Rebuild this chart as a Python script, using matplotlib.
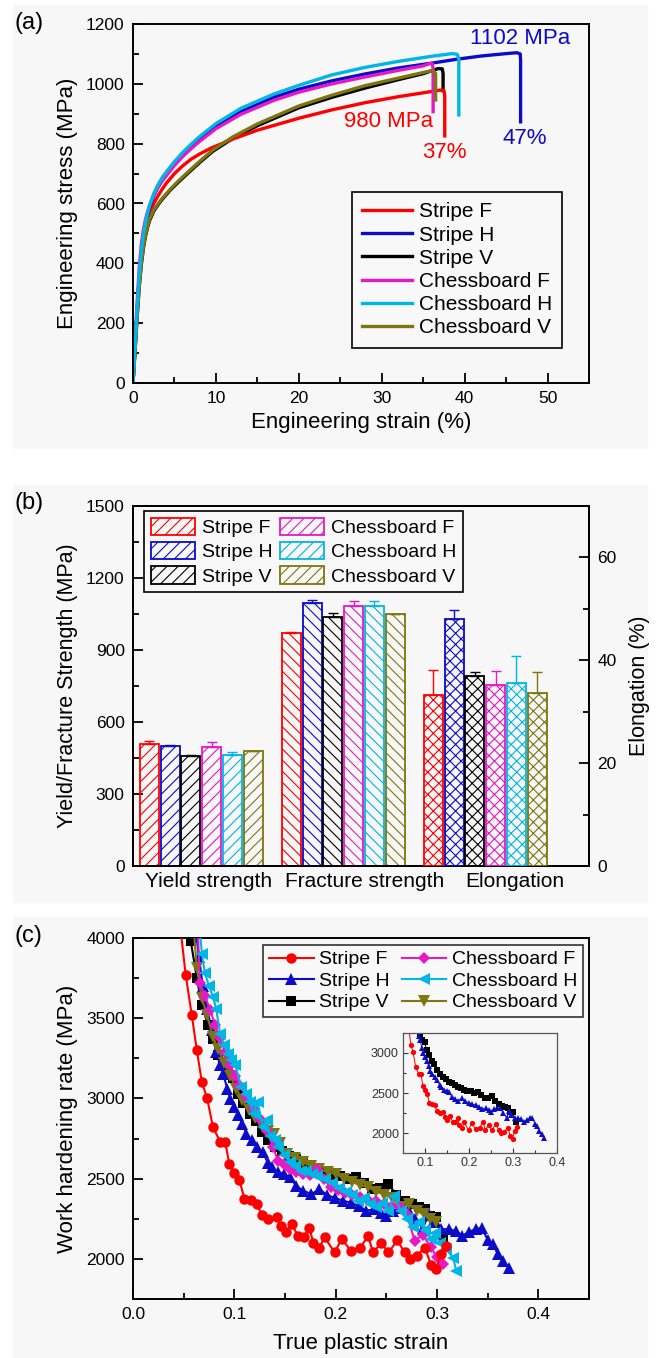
import matplotlib
matplotlib.use('Agg')
import matplotlib.pyplot as plt
import numpy as np
from matplotlib.ticker import MultipleLocator
from matplotlib.patches import Rectangle

plt.rcParams['font.family'] = ['Liberation Sans', 'DejaVu Sans']
plt.rcParams['hatch.linewidth'] = 0.8

W, H = 660, 1358

names = ['Stripe F', 'Stripe H', 'Stripe V', 'Chessboard F', 'Chessboard H', 'Chessboard V']
colors = ['#ff0000', '#0b0bc8', '#000000', '#e619c4', '#00b6e4', '#7d760f']

# ---- (a) engineering stress-strain curves
strain_sf = [0, 0.25, 0.5, 0.75, 1.0, 1.25, 1.5, 1.75, 2.0, 2.5, 3.0, 3.5, 4.0, 5.0, 6.0,
             7.0, 8.0, 9.4, 12, 15, 20, 24, 28, 32, 35, 37.0, 37.5, 37.6, 37.6]
stress_sf = [0, 120, 245, 350, 425, 478, 515, 545, 568, 600, 625, 647, 667, 700, 726,
             748, 765, 785, 815, 845, 885, 913, 937, 957, 970, 979, 978, 960, 826]
strain_sh = [0, 0.25, 0.5, 0.75, 1.0, 1.25, 1.5, 1.75, 2.0, 2.5, 3.0, 3.5, 4.3, 5.0, 6.0,
             7.0, 8.0, 10, 13, 17, 20, 24, 28, 32, 36, 39, 42, 45, 46.3, 46.7, 46.75, 46.75]
stress_sh = [0, 118, 240, 350, 430, 488, 528, 560, 586, 626, 654, 678, 707, 731, 762,
             789, 813, 857, 907, 955, 982, 1010, 1033, 1053, 1069, 1082, 1093, 1101, 1104, 1100, 1080, 873]
strain_sv = [0, 0.25, 0.5, 0.75, 1.0, 1.25, 1.5, 1.75, 2.0, 2.5, 3.0, 3.5, 4.5, 5.5, 6.5,
             8.0, 9.6, 12, 15, 20, 24, 28, 32, 35, 36.8, 37.3, 37.4, 37.4]
stress_sv = [0, 108, 220, 320, 395, 450, 490, 520, 543, 574, 595, 613, 645, 672, 698,
             736, 774, 817, 860, 920, 955, 986, 1014, 1034, 1051, 1050, 1035, 977]
strain_cf = [0, 0.25, 0.5, 0.75, 1.0, 1.25, 1.5, 1.75, 2.0, 2.5, 3.0, 3.5, 4.3, 5.0, 6.0,
             7.0, 8.0, 10, 13, 17, 20, 24, 28, 32, 35, 35.8, 36.1, 36.2, 36.2]
stress_cf = [0, 135, 270, 385, 462, 512, 546, 572, 594, 628, 653, 675, 703, 727, 757,
             783, 807, 850, 898, 945, 972, 1000, 1023, 1045, 1060, 1068, 1067, 1050, 907]
strain_ch = [0, 0.25, 0.5, 0.75, 1.0, 1.25, 1.5, 1.75, 2.0, 2.5, 3.0, 3.5, 4.3, 5.0, 6.0,
             7.0, 8.0, 10, 13, 17, 20, 24, 28, 32, 36, 38.5, 39.1, 39.3, 39.3]
stress_ch = [0, 125, 250, 360, 440, 497, 537, 567, 593, 633, 662, 686, 716, 740, 771,
             798, 823, 867, 918, 966, 995, 1030, 1055, 1075, 1092, 1101, 1099, 1085, 896]
strain_cv = [0, 0.25, 0.5, 0.75, 1.0, 1.25, 1.5, 1.75, 2.0, 2.5, 3.0, 3.5, 4.5, 5.5, 6.5,
             8.0, 9.6, 12, 15, 20, 24, 28, 32, 35.5, 36.2, 36.5, 36.5]
stress_cv = [0, 110, 225, 325, 400, 455, 495, 525, 548, 578, 598, 616, 648, 676, 702,
             740, 778, 822, 866, 926, 962, 994, 1019, 1041, 1044, 1035, 946]

# ---- (b) bar chart values
groups = ['Yield strength', 'Fracture strength', 'Elongation']
yield_mean = [508, 500, 458, 497, 462, 479]
yield_err = [13, 3, 4, 20, 13, 0]
fracture_mean = [972, 1094, 1039, 1083, 1085, 1048]
fracture_err = [3, 14, 15, 21, 19, 2]
elong_mean = [33.3, 48.0, 36.9, 35.1, 35.5, 33.6]
elong_err = [4.9, 1.7, 0.9, 2.8, 5.3, 4.1]

# ---- (c) work hardening rate vs true plastic strain
whr_sf_x = [0.047, 0.052, 0.058, 0.063, 0.068, 0.073, 0.079, 0.086, 0.091, 0.095, 0.100, 0.105, 0.110, 0.116, 0.122,
            0.127, 0.133, 0.142, 0.146, 0.151, 0.157, 0.163, 0.169, 0.174, 0.178, 0.184, 0.189, 0.199, 0.206, 0.215,
            0.224, 0.232, 0.237, 0.245, 0.252, 0.261, 0.268, 0.273, 0.280, 0.288, 0.294, 0.299, 0.304, 0.309]
whr_sf_y = [4050, 3770, 3520, 3300, 3100, 3005, 2820, 2730, 2730, 2590, 2535, 2490, 2375, 2365, 2345,
            2275, 2250, 2260, 2205, 2165, 2215, 2140, 2135, 2195, 2100, 2070, 2135, 2040, 2125, 2050,
            2070, 2140, 2040, 2100, 2040, 2115, 2040, 2000, 2020, 2070, 1965, 1935, 2030, 2080]
whr_sh_x = [0.062, 0.065, 0.069, 0.073, 0.078, 0.082, 0.086, 0.089, 0.093, 0.096, 0.100, 0.104, 0.108, 0.112, 0.117,
            0.122, 0.128, 0.133, 0.137, 0.143, 0.149, 0.155, 0.161, 0.168, 0.176, 0.184, 0.191, 0.199, 0.207, 0.215,
            0.223, 0.230, 0.238, 0.245, 0.250, 0.257, 0.264, 0.271, 0.278, 0.286, 0.292, 0.296, 0.304, 0.312, 0.319,
            0.325, 0.332, 0.338, 0.344, 0.350, 0.355, 0.360, 0.365, 0.371]
whr_sh_y = [4050, 3880, 3700, 3560, 3425, 3290, 3210, 3155, 3060, 2998, 2946, 2894, 2840, 2779, 2740,
            2700, 2665, 2600, 2571, 2540, 2530, 2508, 2456, 2425, 2404, 2435, 2400, 2380, 2363, 2350,
            2330, 2300, 2310, 2285, 2269, 2300, 2316, 2310, 2250, 2193, 2279, 2230, 2185, 2185, 2172,
            2144, 2170, 2185, 2193, 2120, 2092, 2030, 1988, 1946]
whr_sv_x = [0.055, 0.057, 0.063, 0.068, 0.074, 0.079, 0.084, 0.089, 0.094, 0.099, 0.104, 0.109, 0.115, 0.121, 0.127,
            0.133, 0.140, 0.147, 0.154, 0.161, 0.168, 0.175, 0.182, 0.189, 0.196, 0.204, 0.212, 0.220, 0.228, 0.236,
            0.244, 0.252, 0.260, 0.268, 0.275, 0.282, 0.288, 0.293, 0.299, 0.306]
whr_sv_y = [4100, 3980, 3750, 3580, 3460, 3370, 3270, 3210, 3160, 3130, 3030, 2970, 2900, 2860, 2790,
            2740, 2700, 2670, 2640, 2620, 2600, 2575, 2560, 2540, 2520, 2519, 2500, 2508, 2470, 2435,
            2440, 2467, 2400, 2363, 2340, 2321, 2310, 2269, 2258, 2137]
whr_cf_x = [0.064, 0.066, 0.071, 0.076, 0.081, 0.086, 0.091, 0.096, 0.101, 0.105, 0.112, 0.118, 0.125, 0.132, 0.138,
            0.143, 0.149, 0.155, 0.161, 0.168, 0.175, 0.182, 0.188, 0.195, 0.202, 0.209, 0.216, 0.224, 0.232, 0.240,
            0.248, 0.256, 0.263, 0.270, 0.278, 0.286, 0.294, 0.300, 0.306]
whr_cf_y = [4050, 3720, 3640, 3552, 3460, 3375, 3290, 3208, 3140, 3083, 3010, 2938, 2870, 2800, 2700,
            2612, 2590, 2560, 2540, 2530, 2520, 2560, 2500, 2446, 2430, 2410, 2400, 2383, 2370, 2363,
            2340, 2330, 2321, 2280, 2113, 2150, 2071, 2010, 1967]
whr_ch_x = [0.066, 0.068, 0.071, 0.075, 0.079, 0.082, 0.086, 0.090, 0.094, 0.097, 0.101, 0.107, 0.112, 0.115, 0.119,
            0.123, 0.128, 0.132, 0.135, 0.140, 0.143, 0.149, 0.155, 0.160, 0.166, 0.171, 0.177, 0.182, 0.189, 0.196,
            0.203, 0.210, 0.216, 0.222, 0.228, 0.234, 0.240, 0.246, 0.252, 0.258, 0.264, 0.270, 0.276, 0.282, 0.288,
            0.294, 0.298, 0.303, 0.309, 0.316, 0.319]
whr_ch_y = [4050, 3900, 3779, 3700, 3633, 3560, 3404, 3330, 3279, 3240, 3206, 3071, 3029, 2980, 2904,
            2977, 2821, 2863, 2769, 2740, 2696, 2650, 2602, 2580, 2550, 2550, 2530, 2519, 2498, 2470,
            2440, 2420, 2400, 2363, 2380, 2340, 2321, 2350, 2300, 2394, 2300, 2250, 2196, 2230, 2180,
            2123, 2160, 2100, 2060, 2008, 1925]
whr_cv_x = [0.060, 0.063, 0.068, 0.073, 0.079, 0.084, 0.090, 0.096, 0.102, 0.108, 0.114, 0.120, 0.127, 0.133, 0.139,
            0.145, 0.152, 0.160, 0.168, 0.176, 0.184, 0.192, 0.200, 0.208, 0.216, 0.224, 0.232, 0.240, 0.248, 0.256,
            0.264, 0.272, 0.280, 0.287, 0.293, 0.299]
whr_cv_y = [4050, 3810, 3623, 3519, 3383, 3310, 3220, 3140, 3060, 2990, 2930, 2880, 2830, 2800, 2779,
            2720, 2654, 2630, 2602, 2580, 2560, 2540, 2530, 2500, 2480, 2460, 2446, 2420, 2400, 2380,
            2321, 2340, 2300, 2280, 2248, 2230]


def rect(left, top, right, bottom):
    return [left / W, 1 - bottom / H, (right - left) / W, (bottom - top) / H]


def style(ax, size=12.5, major=7, minor=4):
    for s in ax.spines.values():
        s.set_linewidth(1.4)
    ax.tick_params(which='both', direction='in', width=1.3, labelsize=size, pad=6,
                   top=False, right=False)
    ax.tick_params(which='major', length=major)
    ax.tick_params(which='minor', length=minor)
    ax.set_facecolor('none')


fig = plt.figure(figsize=(W / 100, H / 100), dpi=100)
fig.patch.set_facecolor('white')
for (l, t, r, b) in [(13, 5, 647, 448), (13, 485, 647, 902), (13, 917, 647, 1358)]:
    fig.patches.append(Rectangle((l / W, 1 - b / H), (r - l) / W, (b - t) / H,
                                 transform=fig.transFigure, color='#f7f7f7', zorder=-10))

# ================= (a)
axa = fig.add_axes(rect(133, 24, 589, 383))
style(axa)
curves = [(strain_sf, stress_sf), (strain_sh, stress_sh), (strain_sv, stress_sv),
          (strain_cf, stress_cf), (strain_ch, stress_ch), (strain_cv, stress_cv)]
draw_order = [2, 0, 1, 3, 5, 4]
lines_a = {}
for i in draw_order:
    x, y = curves[i]
    lines_a[i], = axa.plot(x, y, color=colors[i], lw=2.4, solid_joinstyle='round', label=names[i])
axa.set_xlim(0, 55)
axa.set_ylim(0, 1200)
axa.xaxis.set_major_locator(MultipleLocator(10))
axa.xaxis.set_minor_locator(MultipleLocator(5))
axa.yaxis.set_major_locator(MultipleLocator(200))
axa.yaxis.set_minor_locator(MultipleLocator(100))
axa.set_xlabel('Engineering strain (%)', fontsize=16, labelpad=4)
axa.set_ylabel('Engineering stress (MPa)', fontsize=16, labelpad=6)
axa.text(40.6, 1153, '1102 MPa', color=colors[1], fontsize=16, va='center', ha='left')
axa.text(25.5, 874, '980 MPa', color=colors[0], fontsize=16, va='center', ha='left')
axa.text(34.9, 770, '37%', color=colors[0], fontsize=16, va='center', ha='left')
axa.text(44.6, 817, '47%', color=colors[1], fontsize=16, va='center', ha='left')
axa.legend([lines_a[i] for i in range(6)], names, loc='upper left',
           bbox_to_anchor=(352 / W, 1 - 192 / H), bbox_transform=fig.transFigure,
           fontsize=15, frameon=True, fancybox=False, edgecolor='black', facecolor='#f8f8f8',
           framealpha=1, borderaxespad=0, handlelength=2.4, labelspacing=0.2,
           handletextpad=0.3, borderpad=0.5)
axa.get_legend().get_frame().set_linewidth(1.2)
fig.text(15 / W, 1 - 23 / H, '(a)', fontsize=17, va='center', ha='left')

# ================= (b)
axb = fig.add_axes(rect(133, 506, 589, 866))
style(axb)
axb2 = axb.twinx()
style(axb2)
axb2.tick_params(which='both', right=True, left=False, labelright=True, labelleft=False)
step = 0.146
bw = 0.134
hatches = ['///', '\\\\\\', 'xxx']
centers = [1, 2, 3]
handles_b = []
for i in range(6):
    off = (i - 2.5) * step
    h = axb.bar(centers[0] + off, yield_mean[i], bw, color='none', edgecolor=colors[i],
                hatch=hatches[0], linewidth=1.3, zorder=3)
    axb.errorbar(centers[0] + off, yield_mean[i], yerr=[[0], [yield_err[i]]], color=colors[i],
                 capsize=3.5, elinewidth=1, capthick=1, fmt='none', zorder=3)
    axb.bar(centers[1] + off, fracture_mean[i], bw, color='none', edgecolor=colors[i],
            hatch=hatches[1], linewidth=1.3, zorder=3)
    axb.errorbar(centers[1] + off, fracture_mean[i], yerr=[[0], [fracture_err[i]]], color=colors[i],
                 capsize=3.5, elinewidth=1, capthick=1, fmt='none', zorder=3)
    axb2.bar(centers[2] + off, elong_mean[i], bw, color='none', edgecolor=colors[i],
             hatch=hatches[2], linewidth=1.3, zorder=3)
    axb2.errorbar(centers[2] + off, elong_mean[i], yerr=[[0], [elong_err[i]]], color=colors[i],
                  capsize=3.5, elinewidth=1, capthick=1, fmt='none', zorder=3)
    handles_b.append(h)
axb.set_xlim(0.52, 3.73)
axb.set_ylim(0, 1500)
axb2.set_ylim(0, 70)
axb.yaxis.set_major_locator(MultipleLocator(300))
axb.yaxis.set_minor_locator(MultipleLocator(150))
axb2.yaxis.set_major_locator(MultipleLocator(20))
axb2.yaxis.set_minor_locator(MultipleLocator(10))
axb.set_xticks([1.05, 2.15, 3.21])
axb.set_xticklabels(groups, fontsize=15)
axb.tick_params(axis='x', which='both', length=0, pad=4)
axb.set_ylabel('Yield/Fracture Strength (MPa)', fontsize=15.5, labelpad=6)
axb2.set_ylabel('Elongation (%)', fontsize=15.5, labelpad=9)
leg = axb.legend(handles_b, names, ncol=2, loc='upper left',
                 bbox_to_anchor=(144 / W, 1 - 511 / H), bbox_transform=fig.transFigure,
                 fontsize=14, frameon=True, fancybox=False, edgecolor='black', facecolor='#f8f8f8',
                 framealpha=1, borderaxespad=0, handlelength=2.25, handleheight=1.0,
                 labelspacing=0.25, handletextpad=0.4, columnspacing=0.35, borderpad=0.35)
leg.get_frame().set_linewidth(1.2)
fig.text(15 / W, 1 - 503 / H, '(b)', fontsize=17, va='center', ha='left')

# ================= (c)
axc = fig.add_axes(rect(133, 938, 589, 1299))
style(axc)
whr = [(whr_sf_x, whr_sf_y), (whr_sh_x, whr_sh_y), (whr_sv_x, whr_sv_y),
       (whr_cf_x, whr_cf_y), (whr_ch_x, whr_ch_y), (whr_cv_x, whr_cv_y)]
markers = ['o', '^', 's', 'D', '<', 'v']
msizes = [7.5, 8, 6.5, 6.5, 8, 8]
zord = [6, 3, 2, 4, 5, 3]
lines_c = []
for i in range(6):
    x, y = whr[i]
    ln, = axc.plot(x, y, color=colors[i], marker=markers[i], ms=msizes[i], lw=1.5,
                   markeredgewidth=0, zorder=zord[i])
    lines_c.append(ln)
axc.set_xlim(0, 0.45)
axc.set_ylim(1750, 4000)
axc.xaxis.set_major_locator(MultipleLocator(0.1))
axc.xaxis.set_minor_locator(MultipleLocator(0.05))
axc.yaxis.set_major_locator(MultipleLocator(500))
axc.yaxis.set_minor_locator(MultipleLocator(250))
axc.set_xlabel('True plastic strain', fontsize=16, labelpad=8)
axc.set_ylabel('Work hardening rate (MPa)', fontsize=16, labelpad=6)
leg = axc.legend(lines_c, names, ncol=2, loc='upper left',
                 bbox_to_anchor=(263 / W, 1 - 945 / H), bbox_transform=fig.transFigure,
                 fontsize=14, frameon=True, fancybox=False, edgecolor='#333333', facecolor='#f8f8f8',
                 framealpha=1, borderaxespad=0, handlelength=2.3, labelspacing=0.2,
                 handletextpad=0.3, columnspacing=0.6, borderpad=0.3, markerscale=1.0)
leg.get_frame().set_linewidth(1.2)
fig.text(15 / W, 1 - 936 / H, '(c)', fontsize=17, va='center', ha='left')

# inset
axi = fig.add_axes(rect(403, 1033, 557, 1153))
axi.set_facecolor('none')
for s in axi.spines.values():
    s.set_linewidth(0.9)
    s.set_color('#555555')
for i in [2, 1, 0]:
    x, y = whr[i]
    axi.plot(x, y, color=colors[i], marker=markers[i], ms=3.8, lw=0.7, markeredgewidth=0)
axi.set_xlim(0.05, 0.4)
axi.set_ylim(1755, 3245)
axi.xaxis.set_major_locator(MultipleLocator(0.1))
axi.xaxis.set_minor_locator(MultipleLocator(0.05))
axi.yaxis.set_major_locator(MultipleLocator(500))
axi.yaxis.set_minor_locator(MultipleLocator(250))
axi.tick_params(which='both', direction='in', width=0.8, labelsize=9, pad=3,
                top=False, right=False, colors='#333333')
axi.tick_params(which='major', length=3.5)
axi.tick_params(which='minor', length=2)

fig.savefig('out.png', dpi=100)
